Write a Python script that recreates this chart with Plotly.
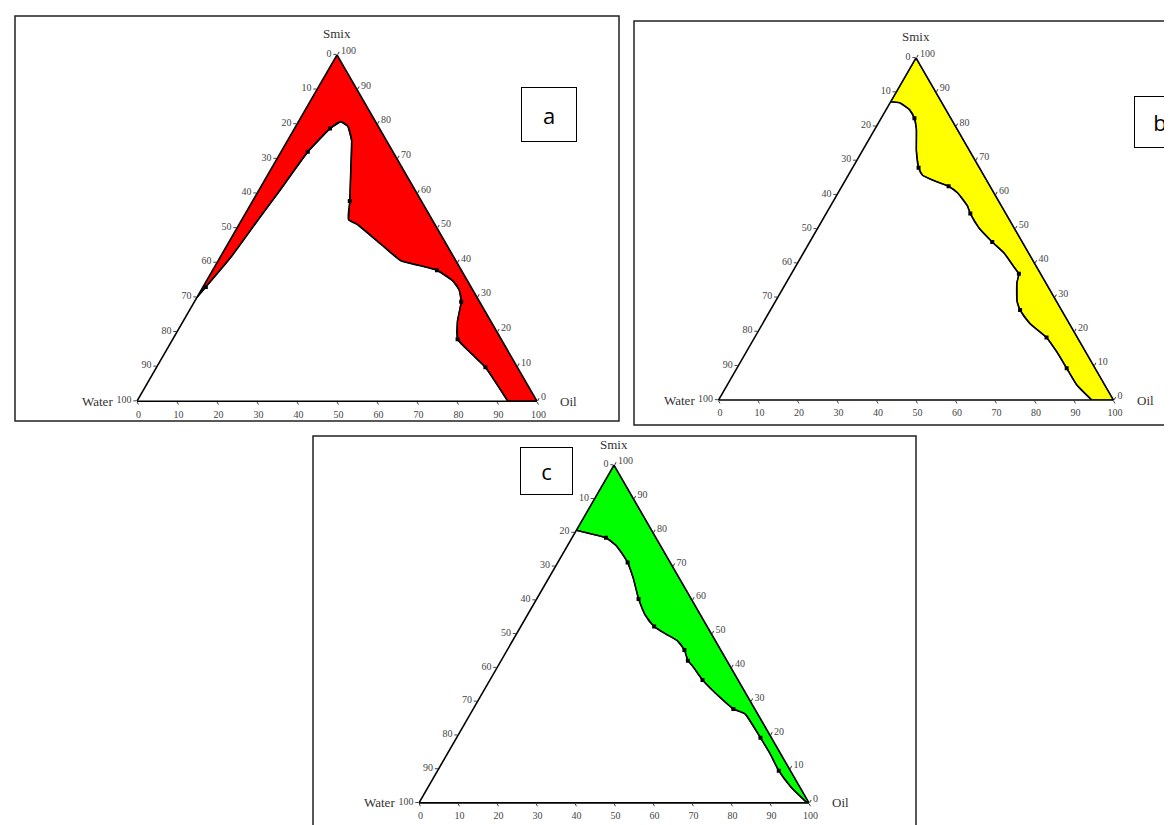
import plotly.graph_objects as go

FIG_W, FIG_H = 1172, 825

# ---------------- data (percent; Smix, Water, Oil) ----------------
# tick labels along each edge (reference reads in counter-clockwise sense)
TICK_VALS = [0, 10, 20, 30, 40, 50, 60, 70, 80, 90, 100]
TICK_TEXT = ["100", "90", "80", "70", "60", "50", "40", "30", "20", "10", "0"]

# Panel a: phase boundary, from the Water-Smix edge down to the Water-Oil edge
a_smix = [30.0, 41.6, 52.4, 60.8, 72.0, 78.7, 80.7, 79.4, 75.3, 66.9, 57.8, 52.4, 51.0,
          45.6, 40.5, 39.2, 37.8, 34.8, 32.1, 28.7, 23.0, 17.9, 13.9, 9.8, 0.0]
a_water = [70.0, 55.7, 43.5, 33.9, 21.3, 12.4, 8.7, 7.6, 8.7, 13.1, 17.9, 20.9, 19.4,
           16.5, 13.7, 9.8, 6.1, 3.7, 3.4, 4.6, 8.4, 10.9, 9.6, 8.0, 7.3]
a_oil = [0.0, 2.7, 4.1, 5.3, 6.7, 8.9, 10.6, 13.0, 16.0, 20.0, 24.3, 26.7, 29.6,
         37.9, 45.8, 51.0, 56.1, 61.5, 64.5, 66.7, 68.6, 71.2, 76.5, 82.2, 92.7]
a_pt_smix = [33.0, 72.0, 78.7, 57.8, 37.8, 28.7, 17.9, 9.8]
a_pt_water = [66.3, 21.3, 12.4, 17.9, 6.1, 4.6, 10.9, 8.0]
a_pt_oil = [0.7, 6.7, 8.9, 24.3, 56.1, 66.7, 71.2, 82.2]

# Panel b
b_smix = [87.2, 86.9, 84.9, 82.4, 79.2, 72.8, 67.9, 65.7, 64.1, 62.5, 60.6, 56.7, 54.5, 50.3,
          46.2, 42.9, 38.5, 36.9, 34.3, 28.8, 26.3, 22.4, 18.3, 14.1, 9.3, 4.5, 0.0]
b_water = [12.8, 10.7, 9.2, 9.2, 10.3, 13.5, 15.4, 15.5, 13.3, 10.5, 9.2, 8.6, 9.0, 8.9,
           7.6, 6.2, 5.7, 5.5, 7.3, 10.0, 10.5, 10.0, 7.8, 7.3, 7.2, 7.1, 5.5]
b_oil = [0.0, 2.4, 5.9, 8.4, 10.5, 13.7, 16.7, 18.8, 22.6, 27.0, 30.2, 34.7, 36.5, 40.8,
         46.2, 50.9, 55.8, 57.6, 58.4, 61.2, 63.2, 67.6, 73.9, 78.6, 83.5, 88.4, 94.5]
b_pt_smix = [82.4, 67.9, 62.5, 54.5, 46.2, 36.9, 26.3, 18.3, 9.3]
b_pt_water = [9.2, 15.4, 10.5, 9.0, 7.6, 5.5, 10.5, 7.8, 7.2]
b_pt_oil = [8.4, 16.7, 27.0, 36.5, 46.2, 57.6, 63.2, 73.9, 83.5]

# Panel c
c_smix = [80.7, 79.7, 78.5, 76.3, 73.7, 71.2, 66.5, 60.4, 55.7, 52.2, 50.0, 48.1, 45.3, 42.1,
          40.5, 36.4, 32.6, 27.8, 26.3, 19.3, 14.6, 9.5, 4.7, 0.0]
c_water = [19.3, 16.2, 12.8, 11.4, 11.0, 10.9, 11.8, 13.5, 14.2, 13.6, 11.7, 9.8, 9.3, 10.0,
           9.6, 9.1, 7.8, 5.5, 3.2, 2.8, 2.7, 3.0, 2.3, 0.5]
c_oil = [0.0, 4.1, 8.7, 12.3, 15.3, 17.9, 21.7, 26.1, 30.1, 34.2, 38.3, 42.1, 45.4, 47.9,
         49.9, 54.5, 59.6, 66.7, 70.5, 77.9, 82.7, 87.5, 93.0, 99.5]
c_pt_smix = [78.5, 71.2, 60.4, 52.2, 45.3, 42.1, 36.4, 27.8, 19.3, 9.5]
c_pt_water = [12.8, 10.9, 13.5, 13.6, 9.3, 10.0, 9.1, 5.5, 2.8, 3.0]
c_pt_oil = [8.7, 17.9, 26.1, 34.2, 45.4, 47.9, 54.5, 66.7, 77.9, 87.5]

# vertices of the composition triangle (Smix, Water, Oil)
APEX = (100.0, 0.0, 0.0)
OIL_VERTEX = (0.0, 0.0, 100.0)

PANELS = [
    dict(key="ternary", smix=a_smix, water=a_water, oil=a_oil,
         ps=a_pt_smix, pw=a_pt_water, po=a_pt_oil, fill="#FF0000", label="a"),
    dict(key="ternary2", smix=b_smix, water=b_water, oil=b_oil,
         ps=b_pt_smix, pw=b_pt_water, po=b_pt_oil, fill="#FFFF00", label="b"),
    dict(key="ternary3", smix=c_smix, water=c_water, oil=c_oil,
         ps=c_pt_smix, pw=c_pt_water, po=c_pt_oil, fill="#00FF00", label="c"),
]

# ---------------- layout geometry (pixels) ----------------
# triangle centre x, centre y and side width for each panel
GEOM = [(329, 220, 400), (908, 221, 395), (606, 626, 390)]
FRAMES = [(7, 8, 611, 413), (626, 13, 1180, 417), (305, 428, 908, 832)]
LABEL_BOXES = [(541, 107, 54, 53), (1152, 114, 50, 50), (538, 463, 51, 46)]

SQ3 = 3 ** 0.5


def px_x(v):
    return v / FIG_W


def px_y(v):
    return 1 - v / FIG_H


fig = go.Figure()
layout_upd = {}
annotations = []
shapes = []

serif = "Liberation Serif"

for panel, (cx, cy, w), frame, lbox in zip(PANELS, GEOM, FRAMES, LABEL_BOXES):
    h = w * SQ3 / 2
    left, right = cx - w / 2, cx + w / 2
    top, base = cy - h / 2, cy + h / 2
    sub = panel["key"]

    axis_common = dict(
        tickmode="array", tickvals=TICK_VALS, ticktext=TICK_TEXT,
        ticks="outside", ticklen=3, tickwidth=1, tickcolor="#444",
        tickfont=dict(family=serif, size=10, color="#444"),
        showgrid=False, showline=True, linecolor="black", linewidth=1.6,
        title=dict(text=""), min=0,
    )
    layout_upd[sub] = dict(
        domain=dict(x=[px_x(left), px_x(right)], y=[px_y(base), px_y(top)]),
        sum=100, bgcolor="white",
        aaxis=axis_common, baxis=axis_common, caxis=axis_common,
    )

    # filled region between boundary and the Smix-Oil edge
    fs = [APEX[0]] + panel["smix"] + [OIL_VERTEX[0], APEX[0]]
    fw = [APEX[1]] + panel["water"] + [OIL_VERTEX[1], APEX[1]]
    fo = [APEX[2]] + panel["oil"] + [OIL_VERTEX[2], APEX[2]]
    fig.add_trace(go.Scatterternary(
        a=fs, b=fw, c=fo, mode="lines", fill="toself", fillcolor=panel["fill"],
        line=dict(color="black", width=1.2), subplot=sub, hoverinfo="skip",
    ))
    # boundary curve
    fig.add_trace(go.Scatterternary(
        a=panel["smix"], b=panel["water"], c=panel["oil"], mode="lines",
        line=dict(color="black", width=1.6, shape="spline", smoothing=0.6),
        subplot=sub, hoverinfo="skip",
    ))
    # experimental points
    fig.add_trace(go.Scatterternary(
        a=panel["ps"], b=panel["pw"], c=panel["po"], mode="markers",
        marker=dict(color="black", size=4, symbol="square"),
        subplot=sub, hoverinfo="skip",
    ))

    # vertex titles
    annotations += [
        dict(text="Smix", x=px_x(cx), y=px_y(top - 21), xref="paper", yref="paper",
             xanchor="center", yanchor="middle", showarrow=False,
             font=dict(family=serif, size=13, color="#333")),
        dict(text="Water", x=px_x(left - 22), y=px_y(base), xref="paper", yref="paper",
             xanchor="right", yanchor="middle", showarrow=False,
             font=dict(family=serif, size=13, color="#333")),
        dict(text="Oil", x=px_x(right + 21), y=px_y(base), xref="paper", yref="paper",
             xanchor="left", yanchor="middle", showarrow=False,
             font=dict(family=serif, size=13, color="#333")),
    ]
    # panel letter box
    bx, by, bw, bh = lbox
    annotations.append(dict(
        text=panel["label"], x=px_x(bx), y=px_y(by), xref="paper", yref="paper",
        xanchor="center", yanchor="middle", showarrow=False,
        width=bw - 2, height=bh - 2, bgcolor="white", bordercolor="black", borderwidth=1,
        font=dict(family="Open Sans", size=22, color="black"), valign="middle",
    ))
    # panel frame
    x0, y0, x1, y1 = frame
    shapes.append(dict(type="rect", xref="paper", yref="paper",
                       x0=px_x(x0), x1=px_x(x1), y0=px_y(y1), y1=px_y(y0),
                       line=dict(color="#222", width=1.5)))

fig.update_layout(
    width=FIG_W, height=FIG_H, margin=dict(l=0, r=0, t=0, b=0),
    paper_bgcolor="white", plot_bgcolor="white", showlegend=False,
    annotations=annotations, shapes=shapes, **layout_upd,
)

fig.write_html("out.html")
